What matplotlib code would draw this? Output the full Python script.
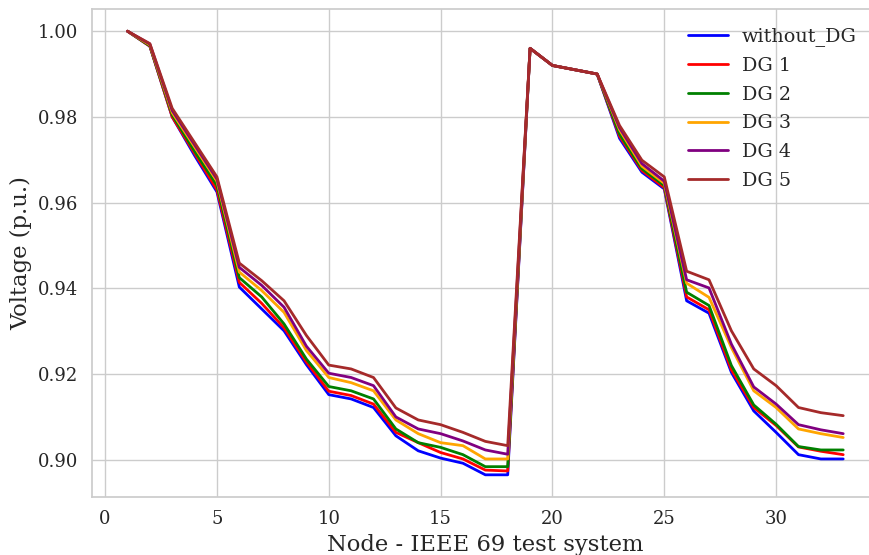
import matplotlib
matplotlib.use("Agg")
import matplotlib.pyplot as plt
import seaborn as sns

nodes = list(range(1, 34))

without_dg = [1.000, 0.9965, 0.980, 0.971, 0.9625, 0.9403, 0.9352, 0.9301, 0.9222, 0.9152,
              0.9142, 0.9122, 0.9056, 0.9021, 0.9004, 0.8992, 0.8965, 0.8965, 0.996, 0.992,
              0.991, 0.990, 0.975, 0.9671, 0.9632, 0.9371, 0.9342, 0.9204, 0.9114, 0.9064,
              0.9012, 0.9002, 0.9002]
dg1 = [1.000, 0.9965, 0.980, 0.9715, 0.963, 0.9414, 0.9365, 0.9308, 0.9228, 0.9160,
       0.9150, 0.9130, 0.9064, 0.9040, 0.9017, 0.9002, 0.8976, 0.8974, 0.996, 0.992,
       0.991, 0.990, 0.9755, 0.9675, 0.9635, 0.9380, 0.9350, 0.9210, 0.9122, 0.9080,
       0.9030, 0.9020, 0.9012]
dg2 = [1.000, 0.9966, 0.9805, 0.972, 0.964, 0.9425, 0.938, 0.9317, 0.9235, 0.9171,
       0.9161, 0.9142, 0.9072, 0.9040, 0.9029, 0.9012, 0.8984, 0.8984, 0.996, 0.992,
       0.991, 0.990, 0.976, 0.9679, 0.964, 0.9391, 0.9360, 0.9220, 0.9128, 0.9083,
       0.9031, 0.9023, 0.9023]
dg3 = [1.000, 0.9968, 0.981, 0.973, 0.965, 0.9438, 0.9395, 0.9344, 0.9255, 0.9192,
       0.9180, 0.9161, 0.9093, 0.9061, 0.9040, 0.9033, 0.9002, 0.9002, 0.996, 0.992,
       0.991, 0.990, 0.977, 0.9685, 0.9645, 0.9412, 0.9379, 0.9262, 0.9161, 0.9122,
       0.9072, 0.9061, 0.9052]
dg4 = [1.000, 0.997, 0.9815, 0.9735, 0.9655, 0.9449, 0.9407, 0.9356, 0.9265, 0.9202,
       0.9192, 0.9173, 0.9100, 0.9072, 0.9061, 0.9044, 0.9023, 0.9013, 0.996, 0.992,
       0.991, 0.990, 0.9775, 0.9691, 0.965, 0.9420, 0.9401, 0.9270, 0.9170, 0.9130,
       0.9082, 0.9070, 0.9061]
dg5 = [1.000, 0.9971, 0.982, 0.974, 0.966, 0.9459, 0.9418, 0.9371, 0.9290, 0.9221,
       0.9212, 0.9192, 0.9121, 0.9093, 0.9082, 0.9064, 0.9043, 0.9033, 0.996, 0.992,
       0.991, 0.990, 0.978, 0.9699, 0.966, 0.9440, 0.9420, 0.9301, 0.9212, 0.9173,
       0.9122, 0.9110, 0.9103]

series = [("without_DG", without_dg, "blue"), ("DG 1", dg1, "red"), ("DG 2", dg2, "green"),
          ("DG 3", dg3, "orange"), ("DG 4", dg4, "purple"), ("DG 5", dg5, "brown")]

sns.set_theme(style="whitegrid")
plt.rcParams["font.family"] = ["DejaVu Serif"]

fig = plt.figure(figsize=(8.7, 5.55), dpi=100)
W, H = 870, 555
left, right, top, bottom = 91.7, 879, 9, 497
ax = fig.add_axes([left / W, (H - bottom) / H, (right - left) / W, (bottom - top) / H])

for name, vals, col in series:
    ax.plot(nodes, vals, color=col, linewidth=2, label=name)

ax.set_xlabel("Node - IEEE 69 test system", fontsize=16.3, color=".15")
ax.set_ylabel("Voltage (p.u.)", fontsize=16.3, color=".15")
ax.tick_params(labelsize=13, colors=".15")
ax.legend(loc="upper right", bbox_to_anchor=(874 / W, 1 - 10 / H), bbox_transform=fig.transFigure,
          frameon=False, fontsize=13.8, handlelength=2.1, handletextpad=0.7, labelspacing=0.56)

fig.savefig("out.png", dpi=100)
